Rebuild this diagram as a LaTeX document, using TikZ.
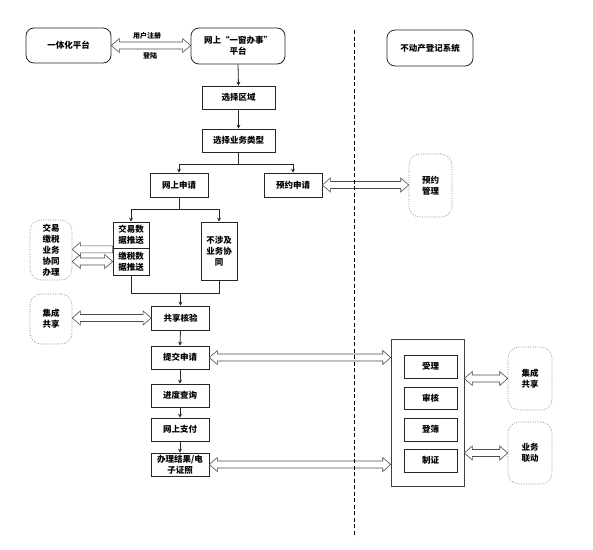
\documentclass[tikz,border=0pt]{standalone}
\usepackage{fontspec}
\setmainfont{Noto Sans CJK SC}
\usetikzlibrary{calc,arrows.meta}
\tikzset{
  txt/.style={font=\bfseries\fontsize{8.5}{11}\selectfont, align=center, inner sep=0pt},
  rnd/.style={txt, draw=black!85, line width=0.8pt, rounded corners=8pt},
  box/.style={txt, draw=black!85, line width=0.7pt},
  cloudbox/.style={txt, draw=black!45, line width=0.6pt, dash pattern=on 1pt off 1.4pt, rounded corners=11pt},
  blk/.style={draw=black!70, line width=0.6pt, line join=miter},
  flow/.style={draw=black!85, line width=0.8pt, -{Stealth[length=4pt,width=4pt]}},
  plain/.style={draw=black!85, line width=0.8pt},
  lab/.style={font=\bfseries\fontsize{7}{9}\selectfont, inner sep=0pt},
  sep/.style={draw=black, line width=0.9pt, dash pattern=on 4pt off 2.5pt}
}
\newcommand\dblarr[2]{\draw[blk] let \p1=#1, \p2=#2 in
  (\x1,\y1) -- ++(8pt,7pt) -- ++(0pt,-3.5pt) -- (\x2-8pt,\y1+3.5pt) -- ++(0pt,3.5pt)
  -- (\x2,\y1) -- ++(-8pt,-7pt) -- ++(0pt,3.5pt) -- (\x1+8pt,\y1-3.5pt) -- ++(0pt,-3.5pt) -- cycle;}
\newcommand\leftarr[2]{\draw[blk] let \p1=#1, \p2=#2 in
  (\x1,\y1) -- ++(8pt,7pt) -- ++(0pt,-3.5pt) -- (\x2,\y1+3.5pt) -- (\x2,\y1-3.5pt)
  -- (\x1+8pt,\y1-3.5pt) -- ++(0pt,-3.5pt) -- cycle;}
\begin{document}
\begin{tikzpicture}[x=1pt,y=-1pt]
\useasboundingbox (0,0) rectangle (593,549);

% top row
\node[rnd, minimum width=85pt, minimum height=35pt] (yiti) at (68.5,45.5) {一体化平台};
\node[rnd, minimum width=94pt, minimum height=36pt] (wang) at (238,46) {网上“一窗办事”\\平台};
\node[rnd, minimum width=86pt, minimum height=36pt] (bdc) at (430,48) {不动产登记系统};

% main column
\node[box, minimum width=73pt, minimum height=23pt] (quyu) at (238.5,97.5) {选择区域};
\node[box, minimum width=73pt, minimum height=23pt] (leixing) at (238.5,140.5) {选择业务类型};
\node[box, minimum width=58pt, minimum height=24pt] (shenqing) at (179,185) {网上申请};
\node[box, minimum width=58pt, minimum height=24pt] (yuyue) at (293,185) {预约申请};
\node[box, minimum width=36pt, minimum height=26pt] (ts1) at (131,235) {交易数\\据推送};
\node[box, minimum width=36pt, minimum height=27pt] (ts2) at (131,261.5) {缴税数\\据推送};
\node[box, minimum width=36pt, minimum height=58pt] (bushe) at (219,251) {不涉及\\业务协\\同};
\node[box, minimum width=58pt, minimum height=24pt] (hezy) at (180.5,318) {共享核验};
\node[box, minimum width=58pt, minimum height=23pt] (tijiao) at (180,357.5) {提交申请};
\node[box, minimum width=58pt, minimum height=23pt] (jindu) at (180,395.5) {进度查询};
\node[box, minimum width=58pt, minimum height=23pt] (zhifu) at (180,429.5) {网上支付};
\node[box, minimum width=58pt, minimum height=23pt] (jieguo) at (180,464.5) {办理结果/电\\子证照};

% left clouds
\node[cloudbox, minimum width=42pt, minimum height=60pt] (c1) at (51,250) {交易\\缴税\\业务\\协同\\办理};
\node[cloudbox, minimum width=42pt, minimum height=50pt] (c2) at (51,319) {集成\\共享};

% right side
\node[cloudbox, minimum width=43pt, minimum height=63pt] (yygl) at (430.5,185.5) {预约\\管理};
\node[box, draw=black!75, line width=0.6pt, minimum width=73pt, minimum height=147pt] (big) at (427.5,412.5) {};
\node[box, minimum width=53pt, minimum height=23pt] (shouli) at (430.5,366.5) {受理};
\node[box, minimum width=53pt, minimum height=22pt] (shenhe) at (430.5,398) {审核};
\node[box, minimum width=53pt, minimum height=23pt] (dengbu) at (430.5,429.5) {登簿};
\node[box, minimum width=53pt, minimum height=23pt] (zhizheng) at (430.5,460.5) {制证};
\node[cloudbox, minimum width=44pt, minimum height=63pt] (cr1) at (530,378.5) {集成\\共享};
\node[cloudbox, minimum width=44pt, minimum height=62pt] (cr2) at (530,453) {业务\\联动};

% flow connectors
\draw[flow] (wang.south) -- (quyu.north);
\draw[flow] (quyu.south) -- (leixing.north);
\draw[plain] (leixing.south) -- ++(0,12.5) coordinate (b1);
\draw[flow] (b1) -| (shenqing.north);
\draw[flow] (b1) -| (yuyue.north);
\draw[plain] (shenqing.south) -- ++(0,12) coordinate (b2);
\draw[flow] (b2) -| (ts1.north);
\draw[flow] (b2) -| (bushe.north);
\coordinate (m1) at ($(ts2.south)+(0,18)$);
\draw[plain] (ts2.south) -- (m1) -| (bushe.south);
\draw[flow] (m1 -| hezy.north) -- (hezy.north);
\draw[flow] (hezy.south) -- (tijiao.north);
\draw[flow] (tijiao.south) -- (jindu.north);
\draw[flow] (jindu.south) -- (zhifu.north);
\draw[flow] (zhifu.south) -- (jieguo.north);

% block arrows
\dblarr{(yiti.east)}{(wang.west)}
\node[lab] (l1) at (147,36) {用户注册};
\node[lab] (l2) at (150,56) {登陆};
\dblarr{(yuyue.east)}{(yygl.west)}
\coordinate (t1) at ($(ts1.south west)+(0,1)$);
\leftarr{(c1.east |- t1)}{(t1)}
\dblarr{(c1.east |- ts2.west)}{(ts2.west)}
\dblarr{(c2.east |- hezy.west)}{(hezy.west)}
\dblarr{(tijiao.east)}{(big.west |- tijiao.east)}
\dblarr{(jieguo.east)}{(big.west |- jieguo.east)}
\dblarr{(big.east |- cr1.west)}{(cr1.west)}
\dblarr{(big.east |- cr2.west)}{(cr2.west)}

% separator
\coordinate (s1) at (354,30);
\coordinate (s2) at (354,537);
\draw[sep] (s1) -- (s2);
\end{tikzpicture}
\end{document}
